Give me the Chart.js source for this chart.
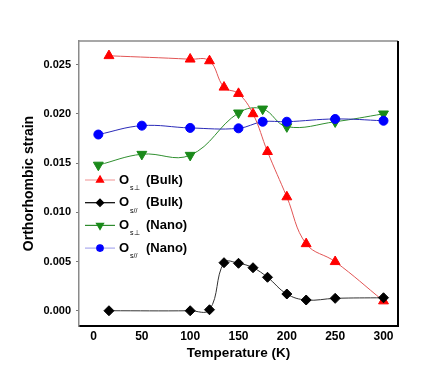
<!DOCTYPE html>
<html>
<head>
<meta charset="utf-8">
<script src="https://cdn.jsdelivr.net/npm/chart.js@4"></script>
<style>
html,body{margin:0;padding:0;background:#fff;}
canvas{display:block;}
</style>
</head>
<body>
<canvas id="c" width="436" height="382"></canvas>
<script>
// ---- data ----
const xBulk = [16, 100, 120, 135, 150, 165, 180, 200, 220, 250, 300];
const bulkPerp = [0.0259, 0.02555, 0.02538, 0.0227, 0.02206, 0.0200, 0.01616, 0.01156, 0.0068, 0.00498, 0.00099];
const bulkPar = [0.0, 0.0, 0.0001, 0.00488, 0.00482, 0.00437, 0.0034, 0.0017, 0.00109, 0.00126, 0.00132];
const xNano = [5, 50, 100, 150, 175, 200, 250, 300];
const nanoPerp = [0.0148, 0.0159, 0.0158, 0.0201, 0.0205, 0.0187, 0.0192, 0.0200];
const nanoPar = [0.0179, 0.0188, 0.01857, 0.01853, 0.0192, 0.0192, 0.01948, 0.0193];
const xTicks = [0, 50, 100, 150, 200, 250, 300];
const yTicks = [0.000, 0.005, 0.010, 0.015, 0.020, 0.025];
const legendMain = ['O', 'O', 'O', 'O'];
const legendSub = ['s\u22A5', 's//', 's\u22A5', 's//'];
const legendTail = ['(Bulk)', '(Bulk)', '(Nano)', '(Nano)'];
const xTitle = 'Temperature (K)';
const yTitle = 'Orthorhombic strain';

const pts = (xs, ys) => xs.map((x, i) => ({x: x, y: ys[i]}));

const legendLineColors = ['#f3a3a3', '#000000', '#2e8b2e', '#a9a9ee'];

const FONT = '"Liberation Sans", Arial, sans-serif';

const framePlugin = {
  id: 'frame',
  afterDatasetsDraw(chart) {
    const {ctx, chartArea: a} = chart;
    ctx.save();
    ctx.strokeStyle = '#8a8a8a';
    ctx.lineWidth = 1.5;
    ctx.beginPath(); ctx.moveTo(a.left, a.top); ctx.lineTo(a.right, a.top); ctx.stroke();
    ctx.strokeStyle = '#000';
    ctx.lineWidth = 2;
    ctx.beginPath(); ctx.moveTo(a.right, a.top); ctx.lineTo(a.right, a.bottom); ctx.stroke();
    ctx.restore();
  }
};

const legendPlugin = {
  id: 'customLegend',
  afterDraw(chart) {
    const ctx = chart.ctx;
    const x0 = 85, y0 = 180, step = 22.7;
    const order = [0, 1, 2, 3];
    ctx.save();
    order.forEach((di, i) => {
      const ds = chart.data.datasets[di];
      const y = y0 + i * step;
      ctx.strokeStyle = legendLineColors[i];
      ctx.lineWidth = 1.2;
      ctx.beginPath(); ctx.moveTo(x0, y); ctx.lineTo(x0 + 30, y); ctx.stroke();
      ctx.fillStyle = ds.pointBackgroundColor;
      ctx.strokeStyle = ds.pointBorderColor;
      Chart.helpers.drawPoint(ctx, {
        pointStyle: ds.pointStyle,
        radius: ds.pointRadius * 0.72,
        rotation: ds.pointRotation || 0,
        borderWidth: 1
      }, x0 + 15, y);
      ctx.fillStyle = '#000';
      ctx.textBaseline = 'middle';
      ctx.textAlign = 'left';
      ctx.font = 'bold 13px ' + FONT;
      ctx.fillText(legendMain[i], 119, y);
      const w = ctx.measureText(legendMain[i]).width;
      ctx.font = '7px ' + FONT;
      ctx.fillText(legendSub[i], 119 + w + 1, y + 8);
      ctx.font = 'bold 13px ' + FONT;
      ctx.fillText(legendTail[i], 146, y);
    });
    ctx.restore();
  }
};

new Chart(document.getElementById('c'), {
  type: 'line',
  data: {
    datasets: [
      {
        label: 'Os\u22A5 (Bulk)', data: pts(xBulk, bulkPerp),
        borderColor: '#e25555', borderWidth: 1, tension: 0.4,
        pointStyle: 'triangle', pointRadius: 5.7,
        pointBackgroundColor: '#ff0000', pointBorderColor: '#ff0000', pointBorderWidth: 1,
        order: 1
      },
      {
        label: 'Os// (Bulk)', data: pts(xBulk, bulkPar),
        borderColor: '#333333', borderWidth: 1, tension: 0.4,
        pointStyle: 'rectRot', pointRadius: 5,
        pointBackgroundColor: '#000000', pointBorderColor: '#000000', pointBorderWidth: 1,
        order: 0
      },
      {
        label: 'Os\u22A5 (Nano)', data: pts(xNano, nanoPerp),
        borderColor: '#2f8f2f', borderWidth: 1, tension: 0.4,
        pointStyle: 'triangle', pointRotation: 180, pointRadius: 5.7,
        pointBackgroundColor: '#1a8a1a', pointBorderColor: '#1a8a1a', pointBorderWidth: 1,
        order: 3
      },
      {
        label: 'Os// (Nano)', data: pts(xNano, nanoPar),
        borderColor: '#2a2ab8', borderWidth: 1, tension: 0.4,
        pointStyle: 'circle', pointRadius: 4.5,
        pointBackgroundColor: '#0000ff', pointBorderColor: '#0000ff', pointBorderWidth: 1,
        order: 2
      }
    ]
  },
  options: {
    responsive: false,
    animation: false,
    devicePixelRatio: 1,
    layout: {padding: {left: 0, right: 38, top: 41, bottom: 0}},
    plugins: {legend: {display: false}, tooltip: {enabled: false}},
    scales: {
      x: {
        type: 'linear', min: -15, max: 315,
        afterFit(s) { s.height = 56; },
        afterBuildTicks(s) { s.ticks = xTicks.map(v => ({value: v})); },
        grid: {display: true, drawOnChartArea: false, drawTicks: false, color: '#000'},
        border: {display: true, color: '#000', width: 2},
        ticks: {
          padding: 3, color: '#000', maxRotation: 0,
          font: {family: FONT, size: 12, weight: 'bold'},
          callback: v => String(v)
        },
        title: {
          display: true, text: xTitle, color: '#000',
          font: {family: FONT, size: 13.5, weight: 'bold'},
          padding: {top: 0, bottom: 21}
        }
      },
      y: {
        type: 'linear', min: -0.00155, max: 0.0274,
        afterFit(s) { s.width = 79; },
        afterBuildTicks(s) { s.ticks = yTicks.map(v => ({value: v})); },
        grid: {display: true, drawOnChartArea: false, drawTicks: true, tickLength: 3, color: '#777'},
        border: {display: true, color: '#8a8a8a', width: 1.5},
        ticks: {
          padding: 5, color: '#000',
          font: {family: FONT, size: 11, weight: 'bold'},
          callback: v => v.toFixed(3)
        },
        title: {
          display: true, text: yTitle, color: '#000',
          font: {family: FONT, size: 14, weight: 'bold'},
          padding: {top: 21, bottom: 0}
        }
      }
    }
  },
  plugins: [framePlugin, legendPlugin]
});
</script>
</body>
</html>
